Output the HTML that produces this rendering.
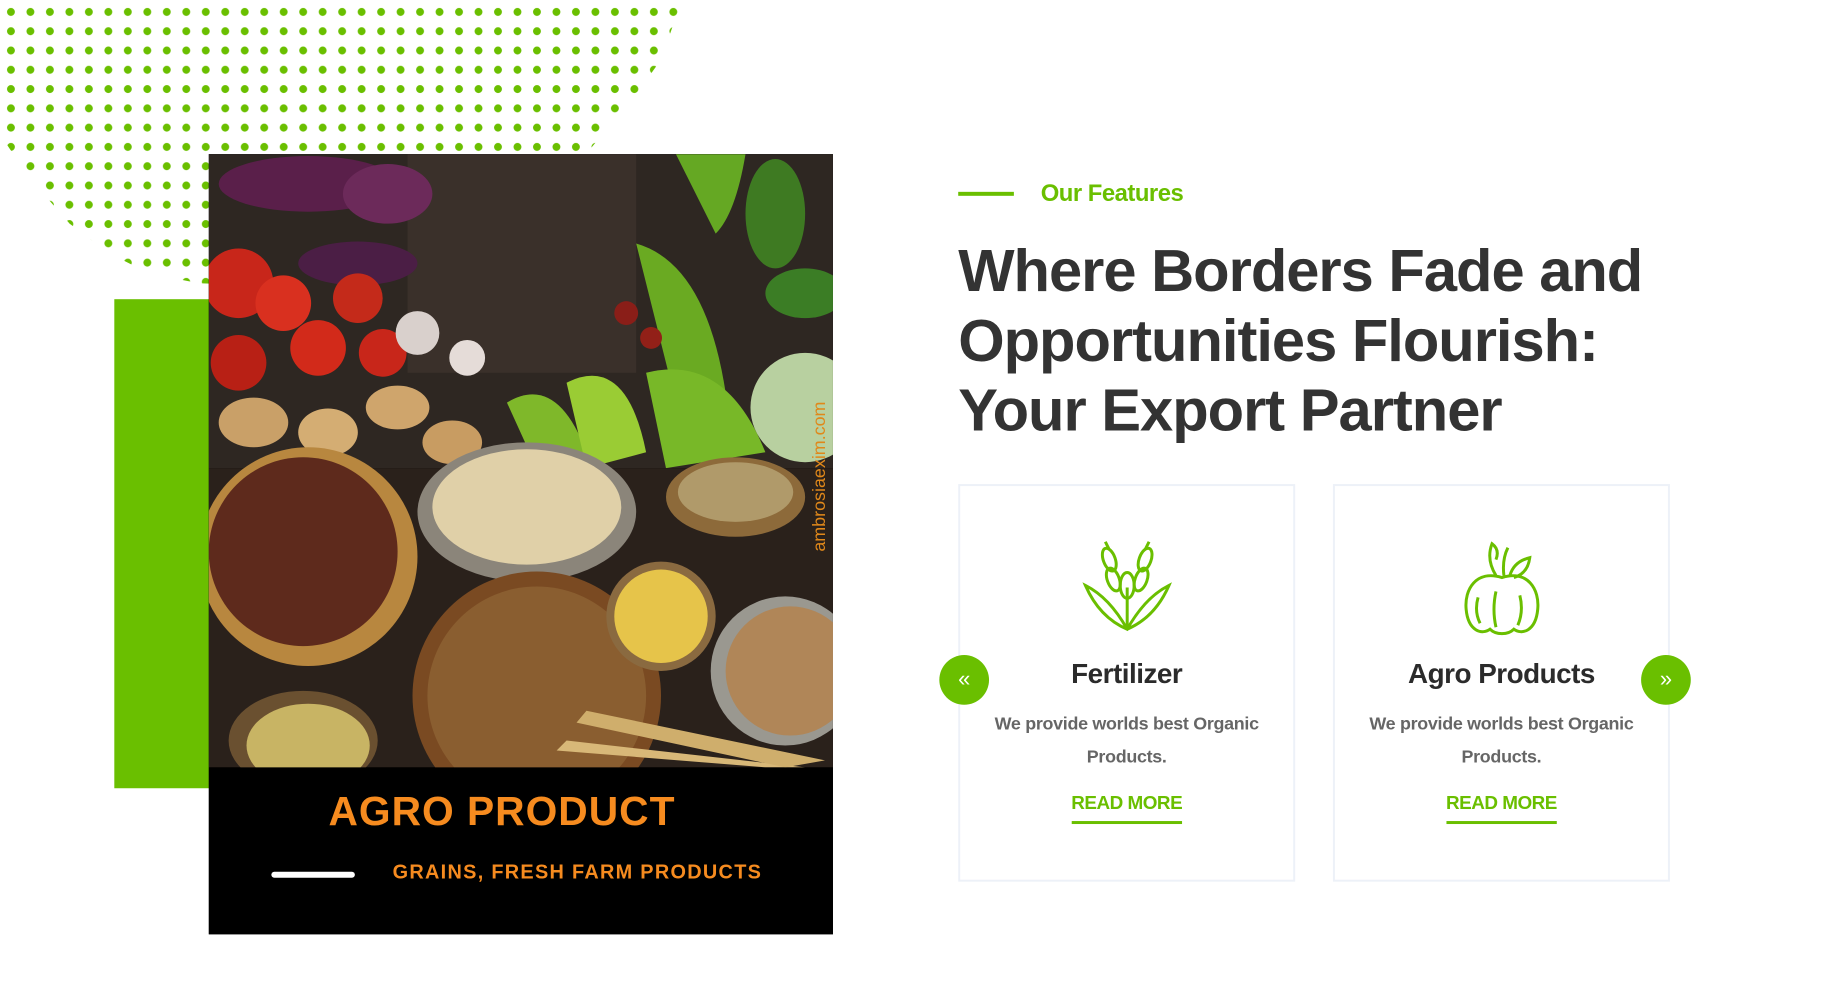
<!DOCTYPE html>
<html><head><meta charset="utf-8">
<style>
*{margin:0;padding:0;box-sizing:border-box}
body{width:1829px;height:991px;background:#fff;position:relative;overflow:hidden;font-family:"Liberation Sans",sans-serif}
#wrap{position:absolute;left:0;top:0;width:1829px;height:991px;transform:scale(0.994);transform-origin:0 0}
.abs{position:absolute}
.card{position:absolute;top:487px;width:339px;height:400px;border:2px solid #edf1f8;background:#fff;text-align:center}
.card h3{position:absolute;top:173px;left:0;right:0;font-size:28px;font-weight:bold;color:#2b2b2b;letter-spacing:-0.5px}
.card p{position:absolute;top:223px;left:20px;right:20px;font-size:18px;line-height:33px;color:#666;font-weight:bold;letter-spacing:-0.3px}
.card a{position:absolute;top:309px;left:50%;transform:translateX(-50%);font-size:19px;color:#6abf00;font-weight:bold;text-decoration:none;padding-bottom:6px;border-bottom:3px solid #6abf00;letter-spacing:-0.5px;white-space:nowrap}
.arrow{position:absolute;top:659px;width:50px;height:50px;border-radius:50%;background:#6abf00;color:#fff;font-size:22px;line-height:48px;text-align:center}
</style></head>
<body>
<div id="wrap">
<svg class="abs" style="left:0;top:0" width="700" height="290">
<defs>
<pattern id="dots" x="4" y="3" width="19.6" height="19.4" patternUnits="userSpaceOnUse"><circle cx="7" cy="9" r="4" fill="#6abf00"/></pattern>
<clipPath id="cl"><polygon points="0,0 686,0 665,60 640,95 592,152 540,210 470,262 350,290 200,285 150,275 110,255 70,225 35,185 10,150 0,135"/></clipPath>
</defs>
<rect width="700" height="290" fill="url(#dots)" clip-path="url(#cl)"/>
</svg>
<div class="abs" style="left:115px;top:301px;width:96px;height:492px;background:#6abf00"></div>

<div class="abs" style="left:210px;top:155px;width:628px;height:785px;background:#000;overflow:hidden">
 <svg width="628" height="785">
  <rect x="0" y="0" width="628" height="316" fill="#2e2722"/>
  <rect x="200" y="0" width="230" height="220" fill="#3a302a"/>
  <ellipse cx="100" cy="30" rx="90" ry="28" fill="#5a1f4a"/>
  <ellipse cx="180" cy="40" rx="45" ry="30" fill="#6c2a5a"/>
  <ellipse cx="150" cy="110" rx="60" ry="22" fill="#4b1e45"/>
  <circle cx="30" cy="130" r="35" fill="#c8261a"/><circle cx="75" cy="150" r="28" fill="#d9301f"/>
  <circle cx="110" cy="195" r="28" fill="#d22a1a"/><circle cx="150" cy="145" r="25" fill="#c42a1a"/>
  <circle cx="30" cy="210" r="28" fill="#b82015"/><circle cx="175" cy="200" r="24" fill="#c8261a"/>
  <ellipse cx="45" cy="270" rx="35" ry="25" fill="#c9a068"/><ellipse cx="120" cy="280" rx="30" ry="24" fill="#d4ad73"/>
  <ellipse cx="190" cy="255" rx="32" ry="22" fill="#cfa56c"/><ellipse cx="245" cy="290" rx="30" ry="22" fill="#c89c62"/>
  <circle cx="210" cy="180" r="22" fill="#d9d0cc"/><circle cx="260" cy="205" r="18" fill="#e5dcd8"/>
  <path d="M300 250 Q350 220 380 300 L330 316 Z" fill="#7fb82a"/>
  <path d="M360 230 Q420 200 440 300 L380 316 Z" fill="#9acc34"/>
  <path d="M430 90 Q500 110 520 240 L470 250 Z" fill="#6aaa22"/>
  <path d="M440 220 Q520 200 560 300 L460 316 Z" fill="#78b828"/>
  <path d="M470 0 L540 0 Q530 60 510 80 Z" fill="#65a823"/>
  <ellipse cx="570" cy="60" rx="30" ry="55" fill="#3e7a22"/>
  <ellipse cx="600" cy="140" rx="40" ry="25" fill="#3b7d25"/>
  <circle cx="600" cy="255" r="55" fill="#b8d0a0"/>
  <circle cx="420" cy="160" r="12" fill="#8a1e18"/><circle cx="445" cy="185" r="11" fill="#922018"/>
  <rect x="0" y="316" width="628" height="301" fill="#2a211b"/>
  <circle cx="100" cy="405" r="110" fill="#b8873f"/><circle cx="95" cy="400" r="95" fill="#5e2a1c"/>
  <ellipse cx="320" cy="360" rx="110" ry="70" fill="#8b857a"/><ellipse cx="320" cy="355" rx="95" ry="58" fill="#e0d0a8"/>
  <circle cx="330" cy="545" r="125" fill="#7a4a22"/><circle cx="330" cy="545" r="110" fill="#8a5e30"/>
  <circle cx="455" cy="465" r="55" fill="#8a6a40"/><circle cx="455" cy="465" r="47" fill="#e6c44a"/>
  <circle cx="580" cy="520" r="75" fill="#9a9890"/><circle cx="585" cy="520" r="65" fill="#b08658"/>
  <ellipse cx="95" cy="590" rx="75" ry="50" fill="#6a5030"/><ellipse cx="100" cy="595" rx="62" ry="42" fill="#c8b464"/>
  <ellipse cx="530" cy="345" rx="70" ry="40" fill="#8d6a3a"/><ellipse cx="530" cy="340" rx="58" ry="30" fill="#b09a6a"/>
  <path d="M360 590 L600 617 L560 617 L350 600 Z" fill="#d8b878"/>
  <path d="M380 560 L620 610 L580 617 L370 572 Z" fill="#cfae6c"/>
  <rect x="0" y="617" width="628" height="168" fill="#000"/>
 </svg>
 <div class="abs" style="left:0;width:590px;top:638px;text-align:center;font-size:41px;font-weight:bold;color:#f68b1f;letter-spacing:1px">AGRO PRODUCT</div>
 <div class="abs" style="left:63px;top:722px;width:84px;height:6px;background:#fff;border-radius:3px"></div>
 <div class="abs" style="left:185px;top:712px;font-size:20px;font-weight:bold;color:#f68b1f;letter-spacing:1.3px;white-space:nowrap">GRAINS, FRESH FARM PRODUCTS</div>
 <div class="abs" style="left:604px;top:400px;transform:rotate(-90deg);transform-origin:0 0;font-size:18px;color:#e0881a;white-space:nowrap">ambrosiaexim.com</div>
</div>

<div class="abs" style="left:964px;top:193px;width:56px;height:4px;background:#6abf00"></div>
<div class="abs" style="left:1047px;top:181px;font-size:24px;font-weight:bold;color:#6abf00;letter-spacing:-0.5px">Our Features</div>
<h1 class="abs" style="left:964px;top:238px;font-size:60px;line-height:70px;font-weight:bold;color:#333;letter-spacing:-1px;white-space:nowrap">Where Borders Fade and<br>Opportunities Flourish:<br>Your Export Partner</h1>

<div class="card" style="left:964px">
 <svg class="abs" style="left:120px;top:52px" width="96" height="96" viewBox="0 0 96 96" fill="none" stroke="#6abf00" stroke-width="3">
  <path d="M48 92 L48 50 M48 92 Q30 60 6 48 Q20 80 48 92 Q66 60 90 48 Q76 80 48 92"/>
  <ellipse cx="30" cy="22" rx="6" ry="12" transform="rotate(-20 30 22)"/><ellipse cx="34" cy="42" rx="6" ry="12" transform="rotate(-20 34 42)"/>
  <ellipse cx="66" cy="22" rx="6" ry="12" transform="rotate(20 66 22)"/><ellipse cx="62" cy="42" rx="6" ry="12" transform="rotate(20 62 42)"/>
  <ellipse cx="48" cy="48" rx="7" ry="13"/><path d="M26 4 L30 12 M70 4 L66 12"/>
 </svg>
 <h3>Fertilizer</h3>
 <p>We provide worlds best Organic Products.</p>
 <a>READ MORE</a>
</div>
<div class="card" style="left:1341px">
 <svg class="abs" style="left:122px;top:54px" width="92" height="100" viewBox="0 0 92 100" fill="none" stroke="#6abf00" stroke-width="3">
  <path d="M46 38 C20 30 8 50 10 70 C12 92 26 96 34 90 C40 96 52 96 58 90 C66 96 80 92 82 70 C84 50 72 30 46 38 Z"/>
  <path d="M22 58 Q18 72 24 84 M40 52 Q36 70 40 88 M64 56 Q68 72 62 86"/>
  <path d="M40 36 Q30 20 36 4 Q44 10 40 20 M48 36 Q46 20 52 8 M54 36 Q58 22 74 18 Q72 34 58 38"/>
 </svg>
 <h3>Agro Products</h3>
 <p>We provide worlds best Organic Products.</p>
 <a>READ MORE</a>
</div>
<div class="arrow" style="left:945px">«</div>
<div class="arrow" style="left:1651px">»</div>
</div>
</body></html>
